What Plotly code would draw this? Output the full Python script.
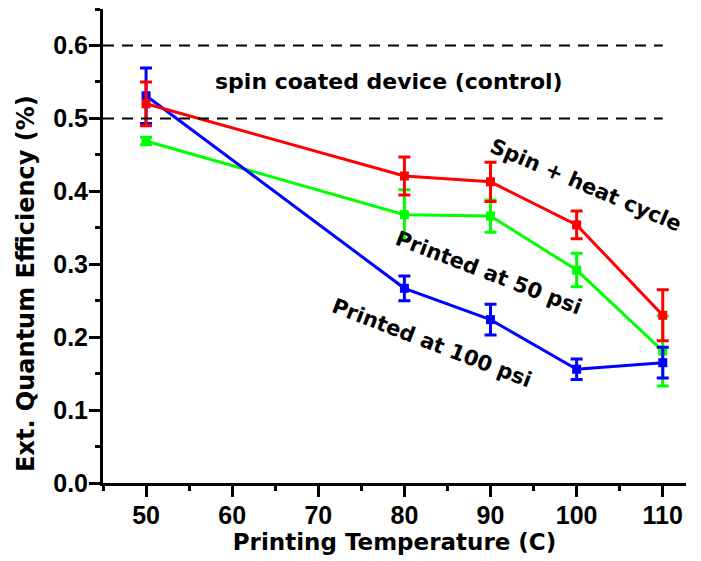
import plotly.graph_objects as go

temps = [50, 80, 90, 100, 110]

spin_heat = [0.520, 0.421, 0.413, 0.354, 0.230]
spin_heat_err = [0.030, 0.026, 0.027, 0.019, 0.035]

psi50 = [0.469, 0.368, 0.366, 0.292, 0.181]
psi50_err = [0.005, 0.034, 0.022, 0.023, 0.048]

psi100 = [0.531, 0.267, 0.224, 0.156, 0.165]
psi100_err = [0.038, 0.017, 0.021, 0.014, 0.021]

control_band = [0.5, 0.6]

x_ticks = [50, 60, 70, 80, 90, 100, 110]
y_ticks = [0.0, 0.1, 0.2, 0.3, 0.4, 0.5, 0.6]

TICK_FONT = dict(family="Liberation Sans", size=25, color="black", weight="bold")
TEXT_FONT = dict(family="DejaVu Sans", size=22, color="black", weight="bold")
ROT_FONT = dict(family="DejaVu Sans", size=21, color="black", weight="bold")
XTITLE_FONT = dict(family="DejaVu Sans", size=23, color="black", weight="bold")
YTITLE_FONT = dict(family="DejaVu Sans", size=24, color="black", weight="bold")

fig = go.Figure()

series = [
    ("Printed at 50 psi", psi50, psi50_err, "#00FF00"),
    ("Printed at 100 psi", psi100, psi100_err, "#0000FF"),
    ("Spin + heat cycle", spin_heat, spin_heat_err, "#FF0000"),
]
for name, vals, errs, col in series:
    fig.add_trace(go.Scatter(
        x=temps, y=vals, name=name, mode="lines+markers",
        line=dict(color=col, width=3),
        marker=dict(symbol="square", size=9, color=col),
        error_y=dict(type="data", array=errs, visible=True, color=col,
                     thickness=3, width=6),
        showlegend=False,
    ))

for yv in control_band:
    fig.add_shape(type="line", xref="x", yref="y", x0=45, x1=110, y0=yv, y1=yv,
                  line=dict(color="black", width=2, dash="11px,8px"))

fig.add_annotation(x=78.2, y=0.55, text="spin coated device (control)",
                   showarrow=False, font=TEXT_FONT, xanchor="center", yanchor="middle")
fig.add_annotation(x=101.0, y=0.408, text="Spin + heat cycle", textangle=23,
                   showarrow=False, font=ROT_FONT, xanchor="center", yanchor="middle")
fig.add_annotation(x=89.8, y=0.2885, text="Printed at 50 psi", textangle=21,
                   showarrow=False, font=ROT_FONT, xanchor="center", yanchor="middle")
fig.add_annotation(x=83.2, y=0.1925, text="Printed at 100 psi", textangle=21,
                   showarrow=False, font=ROT_FONT, xanchor="center", yanchor="middle")

# y-axis title (placed as a rotated annotation to match its vertical offset)
fig.add_annotation(xref="paper", yref="paper", x=-0.132, y=0.42,
                   text="Ext. Quantum Efficiency (%)", textangle=-90,
                   showarrow=False, font=YTITLE_FONT, xanchor="center", yanchor="middle")

fig.update_xaxes(
    range=[45, 112.7], tickvals=x_ticks, ticktext=[str(v) for v in x_ticks],
    ticks="outside", ticklen=11, tickwidth=3, tickcolor="black",
    showline=True, linewidth=3, linecolor="black",
    showgrid=False, zeroline=False, tickfont=TICK_FONT, ticklabelstandoff=-3,
    minor=dict(ticks="outside", dtick=5, tick0=45, ticklen=5, tickwidth=3, tickcolor="black", showgrid=False),
    title=dict(text="Printing Temperature (C)", font=XTITLE_FONT, standoff=4),
)
fig.update_yaxes(
    range=[0, 0.65], tickvals=y_ticks, ticktext=[f"{v:.1f}" for v in y_ticks],
    ticks="outside", ticklen=11, tickwidth=3, tickcolor="black",
    showline=True, linewidth=3, linecolor="black",
    showgrid=False, zeroline=False, tickfont=TICK_FONT, ticklabelstandoff=-4,
    minor=dict(ticks="outside", dtick=0.05, tick0=0, ticklen=5, tickwidth=3, tickcolor="black", showgrid=False),
)

fig.update_layout(
    width=693, height=553,
    margin=dict(l=95, r=15, t=1, b=78, autoexpand=False),
    paper_bgcolor="white", plot_bgcolor="white",
    showlegend=False,
)

fig.write_html("out.html")
